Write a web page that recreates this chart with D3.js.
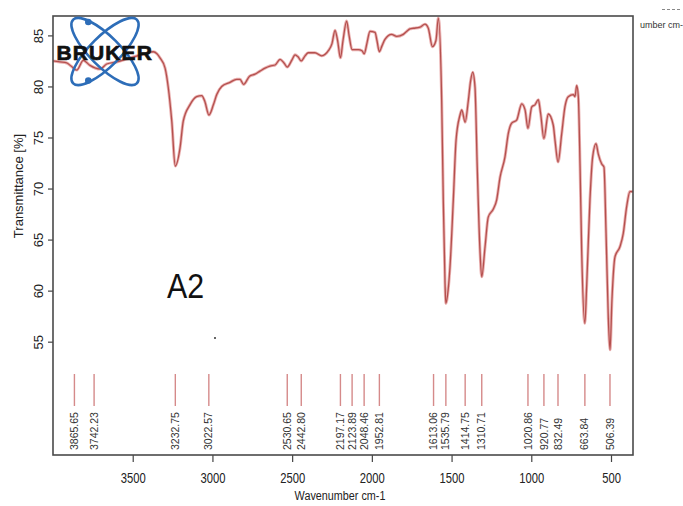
<!DOCTYPE html>
<html>
<head>
<meta charset="utf-8">
<script src="https://cdn.jsdelivr.net/npm/d3@7/dist/d3.min.js"></script>
<style>
  body { margin: 0; background: #fff; }
  svg { display: block; }
  text { font-family: "Liberation Sans", Arial, sans-serif; }
</style>
</head>
<body>
<svg id="chart" width="683" height="506"></svg>
<script>
// IR spectrum of sample A2 (wavenumber in cm-1, transmittance in %)
const wavenumbers = [
  4000, 3956, 3914, 3887, 3851, 3810, 3768, 3705, 3663, 3600, 3517, 3423, 3371, 3348, 3329,
  3297, 3277, 3255, 3233, 3203, 3183, 3141, 3099, 3067, 3047, 3022, 2994, 2973, 2942, 2890,
  2848, 2827, 2805, 2767, 2733, 2702, 2670, 2639, 2607, 2576, 2551, 2531, 2501, 2482, 2463,
  2443, 2419, 2399, 2357, 2315, 2273, 2250, 2231, 2215, 2197, 2181, 2158, 2143, 2124, 2085,
  2062, 2048, 2030, 2012, 1980, 1968, 1953, 1936, 1918, 1876, 1844, 1803, 1781, 1761, 1740,
  1698, 1667, 1646, 1620, 1598, 1583, 1562, 1552, 1541, 1536, 1522, 1510, 1489, 1472, 1447,
  1436, 1415, 1395, 1381, 1367, 1353, 1339, 1322, 1311, 1290, 1270, 1238, 1217, 1196, 1165,
  1144, 1123, 1092, 1060, 1039, 1021, 997, 977, 956, 941, 921, 893, 862, 851, 832,
  809, 789, 768, 736, 726, 715, 705, 694, 684, 664, 652, 632, 615, 594, 580,
  558, 544, 531, 517, 506, 494, 475, 444, 423, 402, 381, 362
];
const transmittance = [
  82.5, 82.4, 82.3, 82.0, 81.6, 82.55, 82.06, 81.7, 82.2, 82.4, 82.8, 83.2, 83.4, 83.2, 82.8,
  81.8, 79.9, 76.6, 72.2, 74.0, 76.6, 78.2, 79.0, 79.1, 78.5, 77.2, 78.2, 79.2, 80.0, 80.4,
  80.7, 80.7, 80.2, 81.0, 81.2, 81.5, 81.8, 82.0, 82.1, 82.65, 82.3, 81.9, 82.6, 83.1, 82.9,
  82.5, 83.0, 83.3, 83.3, 83.0, 83.5, 84.2, 85.5, 84.5, 82.8, 84.5, 86.4, 85.0, 83.6, 83.6,
  83.5, 83.2, 84.3, 85.4, 85.3, 84.5, 83.4, 84.0, 84.6, 85.1, 84.9, 85.1, 85.4, 85.65, 85.7,
  85.8, 86.1, 85.7, 83.9, 84.5, 86.7, 78.6, 68.9, 60.7, 58.75, 60.0, 62.3, 68.9, 74.7, 77.2,
  77.7, 76.5, 78.6, 80.5, 81.4, 79.9, 72.1, 64.0, 61.35, 64.3, 67.2, 68.0, 68.9, 71.1, 73.1,
  75.4, 76.4, 76.7, 78.3, 77.7, 75.9, 78.0, 78.2, 78.7, 77.3, 74.9, 77.3, 76.2, 74.7, 72.6,
  75.4, 78.0, 79.0, 79.2, 79.0, 80.1, 79.0, 72.1, 64.0, 56.8, 60.7, 68.9, 73.1, 74.4, 73.4,
  72.4, 72.1, 65.6, 57.4, 54.2, 59.1, 63.3, 64.3, 65.6, 68.2, 69.7, 69.7
];

// Picked peak positions (cm-1)
const peakPositions = [
  3865.65, 3742.23, 3232.75, 3022.57, 2530.65, 2442.80, 2197.17, 2123.89, 2048.46, 1952.81,
  1613.06, 1535.79, 1414.75, 1310.71, 1020.86, 920.77, 832.49, 663.84, 506.39
];

const xTickValues = [3500, 3000, 2500, 2000, 1500, 1000, 500];
const yTickValues = [55, 60, 65, 70, 75, 80, 85];

const svg = d3.select("#chart");
const plot = { left: 53, right: 633, top: 16, bottom: 455 };

const x = d3.scaleLinear().domain([4000, 362]).range([plot.left, plot.right]);
const y = d3.scaleLinear().domain([86.9, 43.9]).range([plot.top, plot.bottom]);

const spectrum = wavenumbers.map((w, i) => ({ w, t: transmittance[i] }));

svg.append("defs").append("clipPath").attr("id", "plotClip")
  .append("rect")
  .attr("x", plot.left).attr("y", plot.top)
  .attr("width", plot.right - plot.left).attr("height", plot.bottom - plot.top);

// Spectrum trace
const line = d3.line()
  .x(d => x(d.w))
  .y(d => y(d.t))
  .curve(d3.curveMonotoneX);

const traceG = svg.append("g").attr("clip-path", "url(#plotClip)");
traceG.append("path")
  .datum(spectrum)
  .attr("fill", "none")
  .attr("stroke", "#eab1b1")
  .attr("stroke-width", 3)
  .attr("stroke-linejoin", "round")
  .attr("d", line);
traceG.append("path")
  .datum(spectrum)
  .attr("fill", "none")
  .attr("stroke", "#b4504e")
  .attr("stroke-width", 1.3)
  .attr("stroke-linejoin", "round")
  .attr("d", line);

// Peak markers with their wavenumbers
const peaks = svg.append("g");
peaks.selectAll("line")
  .data(peakPositions)
  .join("line")
  .attr("x1", d => x(d)).attr("x2", d => x(d))
  .attr("y1", 374).attr("y2", 406)
  .attr("stroke", "#d58a8a")
  .attr("stroke-width", 1.4);
peaks.selectAll("text")
  .data(peakPositions)
  .join("text")
  .attr("transform", d => `translate(${x(d) + 3.6},450) rotate(-90)`)
  .attr("text-anchor", "start")
  .attr("font-size", 10.5)
  .attr("fill", "#333")
  .text(d => d.toFixed(2));

// Axes
const xAxis = d3.axisBottom(x).tickValues(xTickValues).tickSize(7).tickPadding(10)
  .tickFormat(d3.format("d"));
const xg = svg.append("g")
  .attr("transform", `translate(0,${plot.bottom})`)
  .call(xAxis);
xg.select(".domain").remove();
xg.selectAll(".tick line").attr("stroke", "#444").attr("stroke-width", 1.2);
xg.selectAll(".tick text")
  .attr("font-size", 15)
  .attr("font-family", "'Liberation Sans', Arial, sans-serif")
  .attr("fill", "#222")
  .attr("transform", "scale(0.75,1)");

const yAxis = d3.axisLeft(y).tickValues(yTickValues).tickSize(5).tickFormat(d3.format("d"));
const yg = svg.append("g")
  .attr("transform", `translate(${plot.left},0)`)
  .call(yAxis);
yg.select(".domain").remove();
yg.selectAll(".tick line").attr("stroke", "#444").attr("stroke-width", 1.2);
yg.selectAll(".tick text")
  .attr("x", null).attr("dy", null)
  .attr("font-size", 13)
  .attr("font-family", "'Liberation Sans', Arial, sans-serif")
  .attr("fill", "#222")
  .attr("text-anchor", "middle")
  .attr("transform", "translate(-10,0) rotate(-90)");

// Frame
svg.append("rect")
  .attr("x", plot.left).attr("y", plot.top)
  .attr("width", plot.right - plot.left).attr("height", plot.bottom - plot.top)
  .attr("fill", "none")
  .attr("stroke", "#4a4a4a")
  .attr("stroke-width", 1.6);

// Axis titles
svg.append("text")
  .attr("transform", `translate(340,500) scale(0.8,1)`)
  .attr("text-anchor", "middle")
  .attr("font-size", 13.5)
  .attr("fill", "#222")
  .text("Wavenumber cm-1");

svg.append("text")
  .attr("transform", "translate(23,186) rotate(-90)")
  .attr("text-anchor", "middle")
  .attr("font-size", 13)
  .attr("fill", "#222")
  .text("Transmittance [%]");

// Sample name
svg.append("text")
  .attr("transform", "translate(167,298) scale(0.92,1.05)")
  .attr("font-size", 33)
  .attr("fill", "#111")
  .text("A2");

svg.append("circle").attr("cx", 215).attr("cy", 338).attr("r", 1).attr("fill", "#333");

// Clipped legend fragment at the right margin
svg.append("line")
  .attr("x1", 662).attr("x2", 682).attr("y1", 9.5).attr("y2", 9.5)
  .attr("stroke", "#888").attr("stroke-width", 1).attr("stroke-dasharray", "3,2");
svg.append("text")
  .attr("x", 640).attr("y", 28)
  .attr("font-size", 9)
  .attr("fill", "#333")
  .text("umber cm-");

// Instrument logo
const logo = svg.append("g").attr("transform", "translate(105,51.5)");
[45, -45].forEach(a => {
  logo.append("ellipse")
    .attr("rx", 45).attr("ry", 15)
    .attr("transform", `rotate(${a})`)
    .attr("fill", "none")
    .attr("stroke", "#2d6db8")
    .attr("stroke-width", 2.6);
});
[[-16.7, -29.5], [-16.7, 29]].forEach(([cx, cy]) => {
  logo.append("circle").attr("cx", cx).attr("cy", cy).attr("r", 3.3).attr("fill", "#2d6db8");
});
svg.append("text")
  .attr("x", 56.5).attr("y", 60)
  .attr("font-family", "'DejaVu Sans', sans-serif")
  .attr("font-weight", "bold")
  .attr("font-size", 21)
  .attr("letter-spacing", 1.1)
  .attr("fill", "#111")
  .attr("stroke", "#111")
  .attr("stroke-width", 0.7)
  .text("BRUKER");
</script>
</body>
</html>
